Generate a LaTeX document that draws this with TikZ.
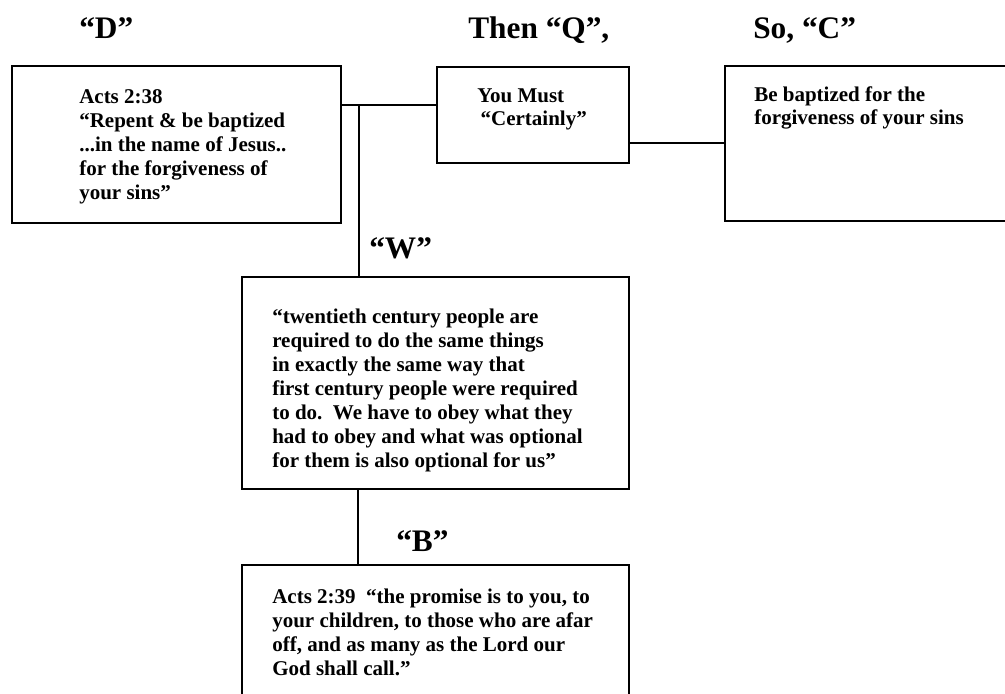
\documentclass[tikz,border=0pt]{standalone}
\usepackage{fontspec}
\setmainfont{Liberation Serif}
\usetikzlibrary{fit}
\begin{document}
\begin{tikzpicture}[x=0.75pt,y=-0.75pt,
  boxst/.style={draw, line width=2.2pt, inner sep=0pt, rectangle},
  txt/.style={anchor=base west, align=left, inner sep=0pt, font=\fontsize{15.75}{18}\selectfont\bfseries},
  head/.style={anchor=base west, inner sep=0pt, font=\fontsize{23.5}{26}\selectfont\bfseries},
  link/.style={line width=2.2pt}]
\useasboundingbox (0,0) rectangle (1005,693);
\clip (0,0) rectangle (1005,693);
\fill[white] (0,0) rectangle (1005,693);

% boxes
\node[boxst, fit={(12,66) (341,223)}] (D) {};
\node[boxst, fit={(437,67) (629,163)}] (Q) {};
\node[boxst, fit={(725,66) (1020,221)}] (C) {};
\node[boxst, fit={(242,277) (629,489)}] (W) {};
\node[boxst, fit={(242,565) (629,720)}] (B) {};

% headings
\node[head] (hD) at (79,38) {“D”};
\node[head] (hQ) at (468,38) {Then “Q”,};
\node[head] (hC) at (753,38) {So, “C”};
\node[head] (hW) at (369,258) {“W”};
\node[head] (hB) at (396,551) {“B”};

% texts (anchored at the baseline of the last line)
\node[txt] (tD) at (79,199) {Acts 2:38\\“Repent \& be baptized\\...in the name of Jesus..\\for the forgiveness of\\your sins”};
\node[txt] (tQ) at (477,125) {You Must\\[-0.75pt]\hspace*{2.5pt}“Certainly”};
\node[txt] (tC) at (754,124) {Be baptized for the\\[-0.75pt]forgiveness of your sins};
\node[txt] (tW) at (272,467) {“twentieth century people are\\required to do the same things\\in exactly the same way that\\first century people were required\\to do.\ \ We have to obey what they\\had to obey and what was optional\\for them is also optional for us”};
\node[txt] (tB) at (272,675) {Acts 2:39\ \ “the promise is to you, to\\your children, to those who are afar\\off, and as many as the Lord our\\God shall call.”};

% connectors
\coordinate (jDQ) at (0,105);
\coordinate (jV) at (359,105);
\coordinate (jQC) at (0,143);
\coordinate (jWB) at (358,0);
\draw[link] (D.east |- jDQ) -- (Q.west |- jDQ);
\draw[link] (jV) -- (jV |- W.north);
\draw[link] (Q.east |- jQC) -- (C.west |- jQC);
\draw[link] (jWB |- W.south) -- (jWB |- B.north);
\end{tikzpicture}
\end{document}
